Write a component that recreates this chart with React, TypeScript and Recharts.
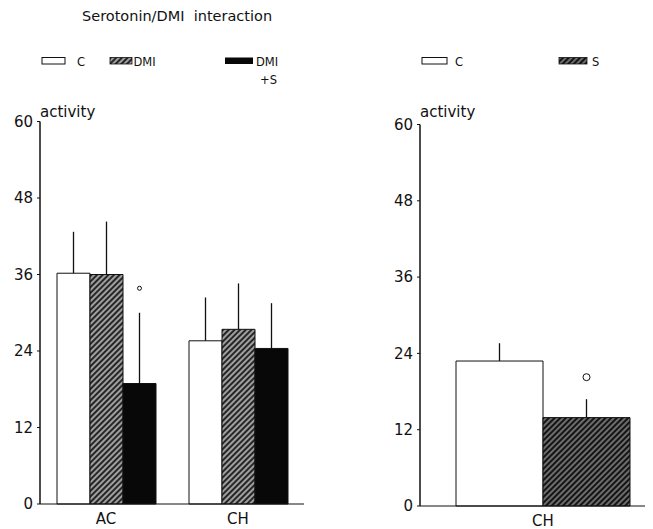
import React from 'react';
import { BarChart, Bar, XAxis, YAxis, ErrorBar, LabelList } from 'recharts';

// ---- data ----
const categories = ['AC', 'CH'];
const cValues = [36.2, 25.6];
const cErrors = [6.5, 6.8];
const dmiValues = [36.0, 27.4];
const dmiErrors = [8.3, 7.2];
const dmisValues = [18.9, 24.4];
const dmisErrors = [11.1, 7.1];
const dmisSignificant = [true, false];

const rightCategories = ['CH'];
const rightCValues = [22.8];
const rightCErrors = [2.8];
const rightSValues = [13.9];
const rightSErrors = [2.9];
const rightSSignificant = [true];

const yTicks = [0, 12, 24, 36, 48, 60];

const leftData = categories.map((cat, i) => ({
  cat,
  c: cValues[i],
  cErr: [0, cErrors[i]],
  dmi: dmiValues[i],
  dmiErr: [0, dmiErrors[i]],
  dmis: dmisValues[i],
  dmisErr: [0, dmisErrors[i]],
  dmisMark: dmisSignificant[i] ? `${dmisErrors[i]}|${dmisValues[i]}` : '',
}));

const rightData = rightCategories.map((cat, i) => ({
  cat,
  c: rightCValues[i],
  cErr: [0, rightCErrors[i]],
  s: rightSValues[i],
  sErr: [0, rightSErrors[i]],
  sMark: rightSSignificant[i] ? `${rightSErrors[i]}|${rightSValues[i]}` : '',
}));

const FONT = '"DejaVu Sans", sans-serif';
const INK = '#111';

const makeMark = (r: number, off: number) => (props: any) => {
  const { value } = props;
  if (!value) return null;
  const vb = props.viewBox && props.viewBox.height !== undefined ? props.viewBox : props;
  const [err, val] = String(value).split('|').map(Number);
  if (!val) return null;
  const px = Math.abs(vb.height) / val;
  const cx = vb.x + vb.width / 2;
  const cy = vb.y - err * px - off;
  return <circle cx={cx} cy={cy} r={r} fill="none" stroke={INK} strokeWidth={1} />;
};

const activityLabel = (dy: number) => (props: any) => {
  const vb = props.viewBox || {};
  return (
    <text x={vb.x + vb.width} y={vb.y - dy} fontSize={15} fontFamily={FONT} fill={INK} textAnchor="start">
      activity
    </text>
  );
};

const tickStyle = { fill: INK, fontSize: 15, fontFamily: FONT };

export default function App() {
  return (
    <div style={{ position: 'relative', width: 645, height: 521, overflow: 'hidden', background: '#fff' }}>
      <svg width={0} height={0} style={{ position: 'absolute' }}>
        <defs>
          <pattern id="hatchDMI" width={4} height={4} patternUnits="userSpaceOnUse" patternTransform="rotate(45)">
            <rect width={4} height={4} fill="#262626" />
            <line x1={1} y1={0} x2={1} y2={4} stroke="#c8c8c8" strokeWidth={1.5} />
          </pattern>
          <pattern id="hatchS" width={4} height={4} patternUnits="userSpaceOnUse" patternTransform="rotate(45)">
            <rect width={4} height={4} fill="#141414" />
            <line x1={1} y1={0} x2={1} y2={4} stroke="#a8a8a8" strokeWidth={1.2} />
          </pattern>
        </defs>
      </svg>

      {/* left panel */}
      <div style={{ position: 'absolute', left: -8, top: -8 }}>
        <BarChart
          width={320}
          height={529}
          data={leftData}
          margin={{ top: 121.5, right: 16, bottom: 0, left: 0 }}
          barGap={0}
        >
          <XAxis
            dataKey="cat"
            height={25}
            tickSize={0}
            tickMargin={9}
            axisLine={{ stroke: INK, strokeWidth: 1 }}
            tick={tickStyle}
            interval={0}
          />
          <YAxis
            width={40}
            domain={[0, 60]}
            ticks={yTicks}
            tickSize={3}
            tickMargin={4}
            axisLine={{ stroke: INK, strokeWidth: 1.5 }}
            tickLine={{ stroke: INK }}
            tick={tickStyle}
            label={activityLabel(4.5)}
          />
          <Bar dataKey="c" barSize={33} fill="#fff" stroke={INK} strokeWidth={1} isAnimationActive={false}>
            <ErrorBar dataKey="cErr" width={0} direction="y" stroke={INK} strokeWidth={1.3} />
          </Bar>
          <Bar dataKey="dmi" barSize={33} fill="url(#hatchDMI)" stroke={INK} strokeWidth={1} isAnimationActive={false}>
            <ErrorBar dataKey="dmiErr" width={0} direction="y" stroke={INK} strokeWidth={1.3} />
          </Bar>
          <Bar dataKey="dmis" barSize={33} fill="#080808" stroke={INK} strokeWidth={1} isAnimationActive={false}>
            <ErrorBar dataKey="dmisErr" width={0} direction="y" stroke={INK} strokeWidth={1.3} />
            <LabelList dataKey="dmisMark" content={makeMark(2, 24.5)} />
          </Bar>
        </BarChart>
      </div>

      {/* right panel */}
      <div style={{ position: 'absolute', left: 372, top: -8 }}>
        <BarChart
          width={300}
          height={529}
          data={rightData}
          margin={{ top: 124.5, right: 14, bottom: 0, left: 0 }}
          barGap={0}
        >
          <XAxis
            dataKey="cat"
            height={23}
            tickSize={0}
            tickMargin={9}
            axisLine={{ stroke: INK, strokeWidth: 1 }}
            tick={tickStyle}
            interval={0}
          />
          <YAxis
            width={40}
            domain={[0, 60]}
            ticks={yTicks}
            tickSize={3}
            tickMargin={4}
            axisLine={{ stroke: INK, strokeWidth: 1.5 }}
            tickLine={{ stroke: INK }}
            tick={tickStyle}
            label={activityLabel(7.5)}
          />
          <Bar dataKey="c" barSize={87} fill="#fff" stroke={INK} strokeWidth={1} isAnimationActive={false}>
            <ErrorBar dataKey="cErr" width={0} direction="y" stroke={INK} strokeWidth={1.3} />
          </Bar>
          <Bar dataKey="s" barSize={87} fill="url(#hatchS)" stroke={INK} strokeWidth={1} isAnimationActive={false}>
            <ErrorBar dataKey="sErr" width={0} direction="y" stroke={INK} strokeWidth={1.3} />
            <LabelList dataKey="sMark" content={makeMark(3.5, 22)} />
          </Bar>
        </BarChart>
      </div>

      {/* title and legends */}
      <svg
        width={653}
        height={529}
        style={{ position: 'absolute', left: -8, top: -8, pointerEvents: 'none' }}
        fontFamily={FONT}
      >
        <text x={82} y={21} fontSize={14.5} fill={INK} style={{ whiteSpace: 'pre' }}>
          Serotonin/DMI  interaction
        </text>

        <rect x={42} y={57.5} width={23} height={6.5} fill="#fff" stroke={INK} strokeWidth={1} />
        <text x={77} y={66} fontSize={11.5} fill={INK}>C</text>

        <rect x={110} y={57.5} width={22} height={6.5} fill="url(#hatchDMI)" stroke={INK} strokeWidth={0.8} />
        <text x={133.5} y={66} fontSize={11.5} fill={INK}>DMI</text>

        <rect x={225} y={57.5} width={28} height={6.5} fill="#080808" />
        <text x={256} y={66} fontSize={11.5} fill={INK}>DMI</text>
        <text x={260} y={84} fontSize={11.5} fill={INK}>+S</text>

        <rect x={422} y={57.5} width={25} height={6.5} fill="#fff" stroke={INK} strokeWidth={1} />
        <text x={455} y={66} fontSize={11.5} fill={INK}>C</text>

        <rect x={559} y={57.5} width={28} height={6.5} fill="url(#hatchS)" stroke={INK} strokeWidth={0.8} />
        <text x={592} y={66} fontSize={11.5} fill={INK}>S</text>
      </svg>
    </div>
  );
}
